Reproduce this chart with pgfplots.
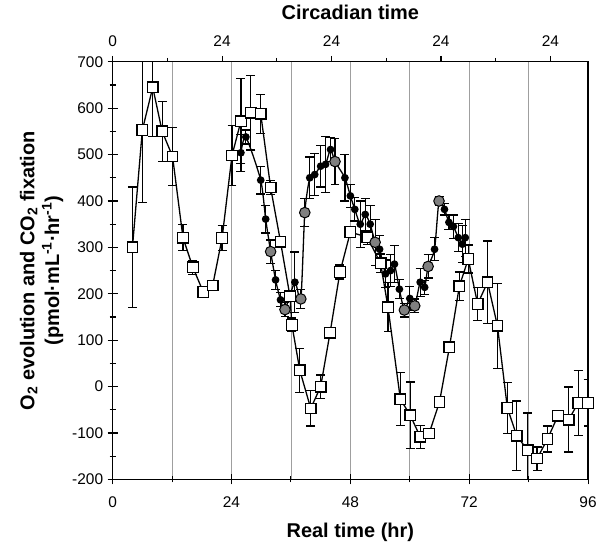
\documentclass[border=0pt]{standalone}
\usepackage{pgfplots}
\pgfplotsset{compat=1.18}
\usepackage{pgfplotstable}
\usetikzlibrary{calc}
\usepackage{fontspec}
\setmainfont{Liberation Sans}

% open squares: CO2 fixation (t, value, error)
\pgfplotstableread{
t v e
4.0 300 130
6.0 553 157
8.1 645 106
10.0 550 65
12.1 496 62
14.2 321 28
16.2 257 15
18.3 204 8
20.2 218 10
22.1 320 27
24.1 498 65
25.9 572 92
27.9 590 80
29.9 588 42
31.9 429 15
33.9 312 10
35.8 195 10
36.2 133 15
37.8 35 48
40.0 -47 38
42.0 0 25
43.9 116 10
45.9 247 15
48.0 333 10
51.4 322 15
54.1 266 20
55.6 171 53
58.1 -27 57
60.1 -62 72
62.1 -108 25
63.9 -101 10
66.0 -33 10
68.0 85 10
70.0 216 31
71.8 275 30
73.7 178 36
75.7 225 89
77.7 131 92
79.7 -46 55
81.6 -106 75
83.8 -137 80
85.7 -155 25
87.8 -113 28
89.9 -63 10
92.1 -71 70
94.0 -35 70
96.0 -35 50
}\squares

% filled circles: O2 evolution
\pgfplotstableread{
t v e
25.9 504 40
26.9 538 15
29.9 445 30
30.9 361 30
31.9 291 25
32.9 230 20
33.9 187 15
34.8 166 15
36.8 225 65
38.0 189 20
38.8 375 30
39.8 450 45
40.8 457 45
42.0 475 45
43.0 479 60
44.0 511 25
44.9 485 50
46.9 450 50
48.0 411 25
48.9 382 25
50.0 350 50
51.0 371 35
52.0 350 40
53.0 311 50
53.9 296 30
55.1 243 30
56.1 250 35
56.9 264 40
57.9 210 20
58.9 165 15
60.0 190 25
61.0 174 15
62.1 225 30
63.0 214 15
63.7 259 25
65.0 296 25
65.9 400 10
67.0 382 12
67.9 354 15
68.8 345 25
69.8 321 30
70.6 307 40
71.2 321 40
}\otwo

% grey circles
\pgfplotstableread{
t v
31.9 291
34.8 166
38.0 189
38.8 375
44.9 485
53.0 311
58.9 165
61.0 174
63.7 259
65.9 400
}\greydots

\pgfplotsset{
  common/.style={
    scale only axis, width=477pt, height=419pt,
    xmin=0, xmax=96, ymin=-200, ymax=700,
    axis line style={line width=1.3pt},
    every tick/.style={line width=1.1pt, black},
    ticklabel style={font=\fontsize{15.5}{18}\selectfont},
    label style={font=\fontsize{20}{25}\selectfont\bfseries},
    /pgf/number format/assume math mode=true,
  },
  ebars/.style={
    error bars/.cd, y dir=both, y explicit,
    error bar style={line width=1.2pt, black},
    error mark options={rotate=90, mark size=4.5pt, line width=1.2pt, black},
  },
}

\begin{document}
\begin{tikzpicture}
\begin{axis}[
  common, name=main,
  tick align=center, major tick length=10pt, minor tick length=6pt,
  xtick={0,24,...,96}, minor xtick={12,36,60,84}, xtick pos=bottom,
  ytick={-200,-100,...,700}, minor ytick={-150,-50,...,650}, ytick pos=left,
  xmajorgrids, xminorgrids,
  major grid style={gray!75, line width=0.8pt},
  minor grid style={gray!75, line width=0.8pt},
  xticklabel style={yshift=-9pt},
  xlabel style={yshift=-8pt},
  yticklabel style={xshift=-1pt},
  xlabel={Real time (hr)},
  ylabel={O\textsubscript{2} evolution and CO\textsubscript{2} fixation\\(pmol·mL\textsuperscript{-1}·hr\textsuperscript{-1})},
  ylabel style={align=center, yshift=2pt},
]
\addplot[black, line width=1.3pt, mark=square*, mark size=5.3pt,
  mark options={fill=white, draw=black, line width=1.3pt}, ebars]
  table[x=t, y=v, y error=e] {\squares};
\addplot[black, line width=1.3pt, smooth, tension=0.4, mark=*, mark size=3.2pt,
  mark options={fill=black}, ebars]
  table[x=t, y=v, y error=e] {\otwo};
\addplot[only marks, mark=*, mark size=5.3pt,
  mark options={fill=gray, draw=black, line width=1pt}]
  table[x=t, y=v] {\greydots};
\end{axis}
\begin{axis}[
  common,
  tick align=outside, major tick length=6pt, minor tick length=4pt,
  axis x line*=top, axis y line=none,
  xtick={0,22.1,44.2,66.3,88.4}, xticklabels={0,24,24,24,24},
  minor xtick={11.05,33.15,55.25,77.35},
  xticklabel style={yshift=6pt},
  xlabel style={yshift=9pt},
  xlabel={Circadian time},
]
\end{axis}
\path ($(main.south west)+(-113pt,-58pt)$) rectangle ($(main.north east)+(10pt,62pt)$);
\end{tikzpicture}
\end{document}
